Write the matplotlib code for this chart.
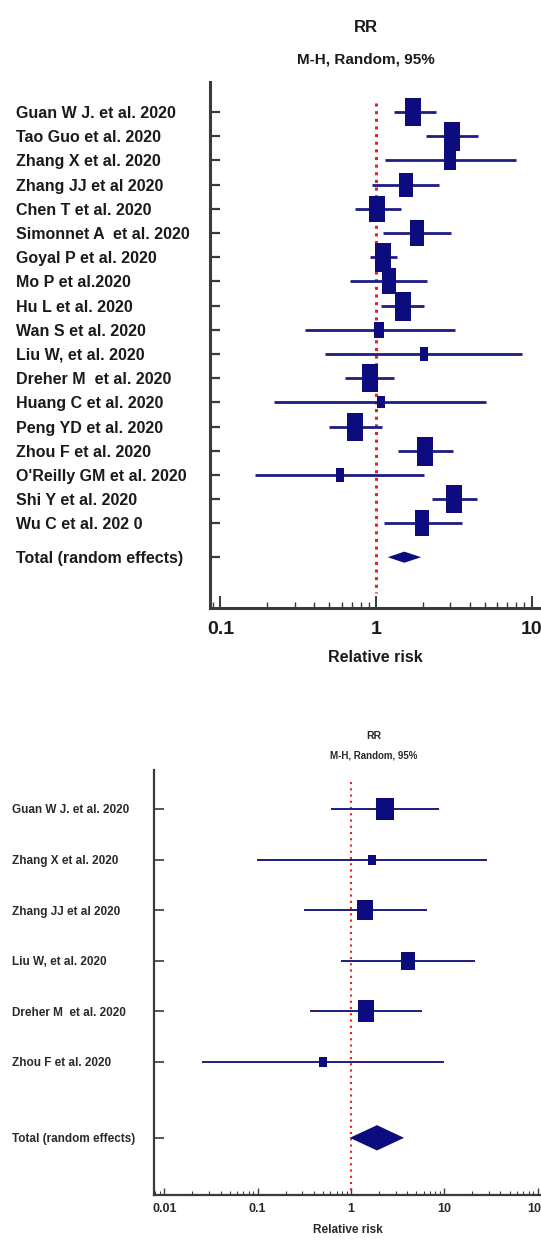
import numpy as np
import matplotlib
matplotlib.use("Agg")
import matplotlib.pyplot as plt
from matplotlib.ticker import LogLocator, NullFormatter, FixedLocator

# ---- data: top panel -------------------------------------------------------
top_studies = ["Guan W J. et al. 2020", "Tao Guo et al. 2020", "Zhang X et al. 2020",
               "Zhang JJ et al 2020", "Chen T et al. 2020", "Simonnet A  et al. 2020",
               "Goyal P et al. 2020", "Mo P et al.2020", "Hu L et al. 2020",
               "Wan S et al. 2020", "Liu W, et al. 2020", "Dreher M  et al. 2020",
               "Huang C et al. 2020", "Peng YD et al. 2020", "Zhou F et al. 2020",
               "O'Reilly GM et al. 2020", "Shi Y et al. 2020", "Wu C et al. 202 0"]
top_rr = [1.73, 3.09, 3.00, 1.56, 1.01, 1.84, 1.11, 1.21, 1.49,
          1.05, 2.04, 0.91, 1.08, 0.73, 2.07, 0.59, 3.18, 1.98]
top_lo = [1.31, 2.10, 1.14, 0.94, 0.73, 1.11, 0.91, 0.68, 1.08,
          0.35, 0.47, 0.63, 0.22, 0.50, 1.39, 0.166, 2.30, 1.13]
top_hi = [2.44, 4.55, 8.00, 2.55, 1.45, 3.05, 1.36, 2.13, 2.04,
          3.24, 8.75, 1.31, 5.10, 1.09, 3.14, 2.04, 4.49, 3.59]
top_weight = [7.5, 8.0, 3.8, 5.9, 6.9, 6.4, 8.0, 6.4, 8.0,
              2.7, 2.1, 7.5, 1.6, 7.5, 8.0, 1.9, 7.5, 6.4]
top_total = (1.52, 1.19, 1.95)

# ---- data: bottom panel ----------------------------------------------------
bot_studies = ["Guan W J. et al. 2020", "Zhang X et al. 2020", "Zhang JJ et al 2020",
               "Liu W, et al. 2020", "Dreher M  et al. 2020", "Zhou F et al. 2020"]
bot_rr = [2.31, 1.68, 1.41, 4.08, 1.45, 0.50]
bot_lo = [0.61, 0.099, 0.31, 0.78, 0.36, 0.025]
bot_hi = [8.77, 28.6, 6.5, 21.3, 5.77, 10.0]
bot_weight = [27, 5, 22, 16, 25, 5]
bot_total = (1.9, 0.97, 3.7)

total_label = "Total (random effects)"

NAVY = "#0c0c7e"
LINE = "#1d1d82"
RED = "#e3222c"
SPINE = "#3a3a3a"
FONT = ["Liberation Sans", "DejaVu Sans"]

W, H = 541, 1251
fig = plt.figure(figsize=(W / 100, H / 100), dpi=100)


def box_marker(aspect):
    return [(-aspect, -1), (aspect, -1), (aspect, 1), (-aspect, 1), (-aspect, -1)]


def forest(ax, studies, rr, lo, hi, weight, total, total_y, size_fn, aspect,
           ci_lw, diamond_h):
    rows = np.arange(len(studies))
    for y, m, l, h, w in zip(rows, rr, lo, hi, weight):
        ax.plot([l, h], [y, y], color=LINE, lw=ci_lw, solid_capstyle="butt", zorder=3)
        ax.plot([m], [y], marker=box_marker(aspect), ms=size_fn(w), color=NAVY,
                mew=0, ls="none", zorder=4)
    m, l, h = total
    ax.fill([l, m, h, m], [total_y, total_y - diamond_h, total_y, total_y + diamond_h],
            color=NAVY, lw=0, zorder=4)
    ax.set_xscale("log")
    ax.set_yticks(list(rows) + [total_y])
    ax.set_yticklabels(studies + [total_label])
    for lab in ax.get_yticklabels():
        lab.set_horizontalalignment("left")
    for s in ["top", "right"]:
        ax.spines[s].set_visible(False)


# ---- top panel -------------------------------------------------------------
ax1 = fig.add_axes([210 / W, 1 - 608 / H, (W - 210) / W, (608 - 82) / H])
forest(ax1, top_studies, top_rr, top_lo, top_hi, top_weight, top_total, 18.4,
       lambda w: 29 * np.sqrt(w / 8.0) * 0.72, 0.57, 2.0, 0.23)
ax1.plot([1, 1], [-0.37, 19.9], color=RED, lw=2.2, ls=(0, (1, 1.5)), zorder=2)
ax1.set_ylim(20.5, -1.24)
ax1.set_xlim(10 ** ((210 - 376) / 155.5), 10 ** ((W - 376) / 155.5))
ax1.xaxis.set_major_locator(FixedLocator([0.1, 1, 10]))
ax1.set_xticklabels(["0.1", "1", "10"])
ax1.xaxis.set_minor_locator(LogLocator(base=10, subs=np.arange(2, 10)))
ax1.xaxis.set_minor_formatter(NullFormatter())
for s in ["left", "bottom"]:
    ax1.spines[s].set_linewidth(2.2)
    ax1.spines[s].set_color(SPINE)
ax1.tick_params(axis="y", direction="in", length=7, width=1.6, color=SPINE,
                pad=140, labelsize=11.5)
ax1.tick_params(axis="x", which="major", direction="in", length=9, width=1.4,
                color=SPINE, pad=9, labelsize=14)
ax1.tick_params(axis="x", which="minor", direction="in", length=4.5, width=1.0,
                color=SPINE)
for lab in ax1.get_yticklabels() + ax1.get_xticklabels():
    lab.set_family(FONT)
    lab.set_weight("bold")
    lab.set_color("#1a1a1a")
ax1.set_xlabel("Relative risk", family=FONT, weight="bold", fontsize=11.5,
               color="#1a1a1a", labelpad=9)
fig.text(366 / W, 1 - 27 / H, "RR", family=FONT, weight="bold", fontsize=12,
         ha="center", va="center", color="#1a1a1a")
fig.text(366 / W, 1 - 59 / H, "M-H, Random, 95%", family=FONT, weight="bold",
         fontsize=11, ha="center", va="center", color="#1a1a1a")

# ---- bottom panel ----------------------------------------------------------
ax2 = fig.add_axes([154 / W, 1 - 1195 / H, (W - 154) / W, (1195 - 770) / H])
forest(ax2, bot_studies, bot_rr, bot_lo, bot_hi, bot_weight, bot_total, 6.5,
       lambda w: 23 * np.sqrt(w / 27.0) * 0.72, 0.75, 1.4, 0.25)
ax2.plot([1, 1], [-0.53, 7.63], color=RED, lw=1.5, ls=(0, (1, 2)), zorder=2)
ax2.set_ylim(7.63, -0.77)
ax2.set_xlim(10 ** ((154 - 351) / 93.3), 10 ** ((W - 351) / 93.3))
ax2.xaxis.set_major_locator(FixedLocator([0.01, 0.1, 1, 10, 100]))
ax2.set_xticklabels(["0.01", "0.1", "1", "10", "100"])
ax2.xaxis.set_minor_locator(LogLocator(base=10, subs=np.arange(2, 10)))
ax2.xaxis.set_minor_formatter(NullFormatter())
for s in ["left", "bottom"]:
    ax2.spines[s].set_linewidth(1.6)
    ax2.spines[s].set_color(SPINE)
ax2.tick_params(axis="y", direction="in", length=7, width=1.2, color=SPINE,
                pad=102, labelsize=8.5)
ax2.tick_params(axis="x", which="major", direction="in", length=5, width=1.0,
                color=SPINE, pad=6, labelsize=9)
ax2.tick_params(axis="x", which="minor", direction="in", length=3, width=0.8,
                color=SPINE)
for lab in ax2.get_yticklabels() + ax2.get_xticklabels():
    lab.set_family(FONT)
    lab.set_weight("bold")
    lab.set_color("#2a2a2a")
ax2.set_xlabel("Relative risk", family=FONT, weight="bold", fontsize=8.5,
               color="#2a2a2a", labelpad=6)
fig.text(374 / W, 1 - 736 / H, "RR", family=FONT, weight="bold", fontsize=7.5,
         ha="center", va="center", color="#2a2a2a")
fig.text(374 / W, 1 - 756 / H, "M-H, Random, 95%", family=FONT, weight="bold",
         fontsize=7, ha="center", va="center", color="#2a2a2a")

fig.savefig("out.png", dpi=100)
